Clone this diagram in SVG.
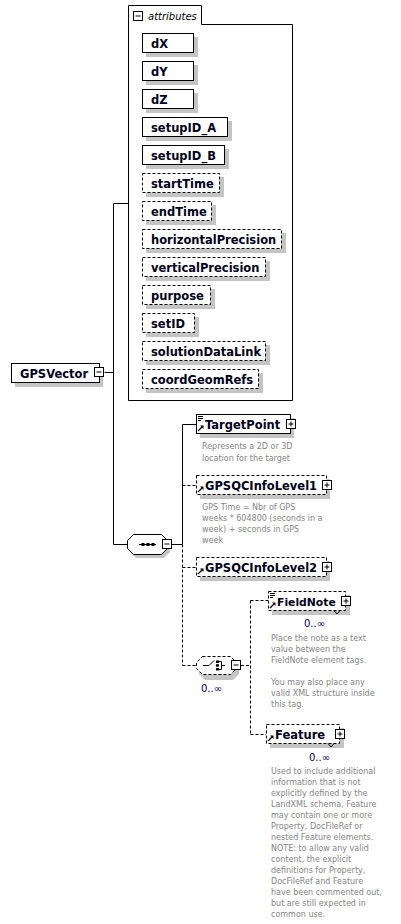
<svg xmlns="http://www.w3.org/2000/svg" width="401" height="924" viewBox="0 0 401 924">
<style>
.bg{fill:#fff}
.box{fill:#fff;stroke:#000;stroke-width:1}
.opt{stroke-dasharray:3,2}
.sh{fill:#c4c4c4}
.ln{fill:none;stroke:#000;stroke-width:1}
.dl{fill:none;stroke:#000;stroke-width:1;stroke-dasharray:3,2}
.name{font-family:"DejaVu Sans","Liberation Sans",sans-serif;font-weight:bold;font-size:11.5px;fill:#00001a}
.doc{font-family:"DejaVu Sans","Liberation Sans",sans-serif;font-size:8px;fill:#858585}
.occ{font-family:"DejaVu Sans","Liberation Sans",sans-serif;font-size:10px;fill:#000066}
.ital{font-family:"DejaVu Sans","Liberation Sans",sans-serif;font-style:italic;font-size:10px;fill:#000}
.ic{fill:#fff;stroke:#000;stroke-width:1}
</style>
<defs>
<g id="plus"><rect class="ic" x="0.5" y="0.5" width="9" height="9"/><path class="ln" d="M2.5,5 H7.5 M5,2.5 V7.5"/></g>
<g id="minus"><rect class="ic" x="0.5" y="0.5" width="9" height="9"/><path class="ln" d="M2.5,5 H7.5"/></g>
<g id="ref"><path d="M1,7 L5,3" stroke="#000" stroke-width="1.2" fill="none"/><path d="M3,1.5 H6.5 V5 Z" fill="#000"/></g>
<g id="mix"><path class="ln" d="M0,0.5 H5 M0,2.5 H5 M0,4.5 H3"/></g>
</defs>
<rect class="bg" x="0" y="0" width="401" height="924"/>

<g id="connectors">
<path class="ln" d="M104.5,372.5 H113.5 M113.5,203.5 V544.5 M113.5,203.5 H128 M113.5,544.5 H127"/>
<path class="ln" d="M172,544.5 H182.5 M182.5,424.5 V544.5 M182.5,424.5 H196"/>
<path class="dl" d="M182.5,544.5 V665.5 M182.5,485.5 H196 M182.5,567.5 H196 M182.5,665.5 H196"/>
<path class="dl" d="M241,665.5 H250.5 M250.5,600.5 V734.5 M250.5,600.5 H268 M250.5,734.5 H266"/>
</g>

<g id="GPSVector">
<rect class="sh" x="15" y="367" width="88" height="20"/>
<rect class="box" x="11.5" y="363.5" width="88" height="19"/>
<text class="name" x="20" y="377.5">GPSVector</text>
<use href="#minus" x="94" y="367"/>
</g>

<g id="attributes">
<path class="box" d="M128.5,5.5 H201.5 V24.5 H292.5 V400.5 H128.5 Z"/>
<use href="#minus" x="133" y="11"/>
<text class="ital" x="148" y="20">attributes</text>
</g>

<g id="attr-dX"><rect class="sh" x="146" y="37" width="52" height="20"/><rect class="box" x="142.5" y="33.5" width="51" height="19"/><text class="name" x="151" y="47.5">dX</text></g>
<g id="attr-dY"><rect class="sh" x="146" y="65" width="52" height="20"/><rect class="box" x="142.5" y="61.5" width="51" height="19"/><text class="name" x="151" y="75.5">dY</text></g>
<g id="attr-dZ"><rect class="sh" x="146" y="93" width="52" height="20"/><rect class="box" x="142.5" y="89.5" width="51" height="19"/><text class="name" x="151" y="103.5">dZ</text></g>
<g id="attr-setupID_A"><rect class="sh" x="146" y="121" width="86" height="20"/><rect class="box" x="142.5" y="117.5" width="85" height="19"/><text class="name" x="151" y="131.5">setupID_A</text></g>
<g id="attr-setupID_B"><rect class="sh" x="146" y="149" width="83" height="20"/><rect class="box" x="142.5" y="145.5" width="82" height="19"/><text class="name" x="151" y="159.5">setupID_B</text></g>
<g id="attr-startTime"><rect class="sh" x="146" y="177" width="78" height="20"/><rect class="box opt" x="142.5" y="173.5" width="77" height="19"/><text class="name" x="151" y="187.5">startTime</text></g>
<g id="attr-endTime"><rect class="sh" x="146" y="205" width="70" height="20"/><rect class="box opt" x="142.5" y="201.5" width="69" height="19"/><text class="name" x="151" y="215.5">endTime</text></g>
<g id="attr-horizontalPrecision"><rect class="sh" x="146" y="233" width="140" height="20"/><rect class="box opt" x="142.5" y="229.5" width="139" height="19"/><text class="name" x="151" y="243.5">horizontalPrecision</text></g>
<g id="attr-verticalPrecision"><rect class="sh" x="146" y="261" width="124" height="20"/><rect class="box opt" x="142.5" y="257.5" width="123" height="19"/><text class="name" x="151" y="271.5">verticalPrecision</text></g>
<g id="attr-purpose"><rect class="sh" x="146" y="289" width="69" height="20"/><rect class="box opt" x="142.5" y="285.5" width="68" height="19"/><text class="name" x="151" y="299.5">purpose</text></g>
<g id="attr-setID"><rect class="sh" x="146" y="317" width="53" height="20"/><rect class="box opt" x="142.5" y="313.5" width="52" height="19"/><text class="name" x="151" y="327.5">setID</text></g>
<g id="attr-solutionDataLink"><rect class="sh" x="146" y="345" width="124" height="20"/><rect class="box opt" x="142.5" y="341.5" width="123" height="19"/><text class="name" x="151" y="355.5">solutionDataLink</text></g>
<g id="attr-coordGeomRefs"><rect class="sh" x="146" y="373" width="117" height="20"/><rect class="box opt" x="142.5" y="369.5" width="116" height="19"/><text class="name" x="151" y="383.5">coordGeomRefs</text></g>

<g id="sequence">
<path class="sh" d="M136,538 H164 L170,544 V552 L164,558 H136 L130,552 V544 Z"/>
<path class="box" d="M133.5,534.5 H161.5 L167.5,540.5 V548.5 L161.5,554.5 H133.5 L127.5,548.5 V540.5 Z"/>
<path class="ln" d="M139,544.5 H156"/>
<rect x="141.5" y="543" width="3" height="3" fill="#000"/>
<rect x="146.5" y="543" width="3" height="3" fill="#000"/>
<rect x="151.5" y="543" width="3" height="3" fill="#000"/>
<use href="#minus" x="162" y="539"/>
</g>

<g id="TargetPoint">
<rect class="sh" x="200" y="418" width="94" height="20"/>
<rect class="box" x="196.5" y="414.5" width="94" height="19"/>
<use href="#mix" x="198" y="416"/>
<use href="#ref" x="197" y="424"/>
<text class="name" x="205" y="428.5">TargetPoint</text>
<use href="#plus" x="286" y="419"/>
<text class="doc" x="202" y="449">Represents a 2D or 3D</text>
<text class="doc" x="202" y="461">location for the target</text>
</g>

<g id="GPSQCInfoLevel1">
<rect class="sh" x="200" y="479" width="130" height="20"/>
<rect class="box opt" x="196.5" y="475.5" width="130" height="19"/>
<use href="#ref" x="197" y="485"/>
<text class="name" x="205" y="489.5">GPSQCInfoLevel1</text>
<use href="#plus" x="322" y="480"/>
<text class="doc" x="202" y="510">GPS Time = Nbr of GPS</text>
<text class="doc" x="202" y="521">weeks * 604800 (seconds in a</text>
<text class="doc" x="202" y="532">week) + seconds in GPS</text>
<text class="doc" x="202" y="543">week</text>
</g>

<g id="GPSQCInfoLevel2">
<rect class="sh" x="200" y="561" width="130" height="20"/>
<rect class="box opt" x="196.5" y="557.5" width="130" height="19"/>
<use href="#ref" x="197" y="567"/>
<text class="name" x="205" y="571.5">GPSQCInfoLevel2</text>
<use href="#plus" x="322" y="562"/>
</g>

<g id="choice">
<path class="sh" d="M205,662 H233 L239,668 V674 L233,680 H205 L199,674 V668 Z"/>
<path class="box opt" d="M202.5,656.5 H230.5 L236.5,662.5 V668.5 L230.5,674.5 H202.5 L196.5,668.5 V662.5 Z"/>
<path class="ln" d="M203,665.5 H209 L214,660.5"/>
<rect x="216" y="660.5" width="3" height="2.5" fill="#000"/>
<rect x="216" y="664.2" width="3" height="2.5" fill="#000"/>
<rect x="216" y="668" width="3" height="2.5" fill="#000"/>
<path class="ln" d="M219,661.5 H221.5 V669.5 H219 M221.5,665.5 H225"/>
<use href="#minus" x="231" y="660"/>
<text class="occ" x="201" y="692">0..∞</text>
</g>

<g id="FieldNote">
<rect class="sh" x="272" y="595" width="78" height="20"/>
<rect class="box opt" x="268.5" y="591.5" width="77" height="19"/>
<path class="ln" d="M334,610.5 L337,614 L340,610.5"/>
<use href="#mix" x="270" y="593"/>
<use href="#ref" x="269" y="601"/>
<text class="name" x="277" y="605.5" style="font-size:10.8px">FieldNote</text>
<use href="#plus" x="341" y="596"/>
<text class="occ" x="304" y="627">0..∞</text>
<text class="doc" x="271" y="641">Place the note as a text</text>
<text class="doc" x="271" y="652">value between the</text>
<text class="doc" x="271" y="663">FieldNote element tags.</text>
<text class="doc" x="271" y="685">You may also place any</text>
<text class="doc" x="271" y="696">valid XML structure inside</text>
<text class="doc" x="271" y="707">this tag.</text>
</g>

<g id="Feature">
<rect class="sh" x="270" y="728" width="74" height="20"/>
<rect class="box opt" x="266.5" y="724.5" width="73" height="19"/>
<path class="ln" d="M328,743.5 L331,747 L334,743.5"/>
<use href="#ref" x="267" y="734"/>
<text class="name" x="275" y="738.5">Feature</text>
<use href="#plus" x="335" y="729"/>
<text class="occ" x="309" y="761">0..∞</text>
<text class="doc" x="271" y="774">Used to include additional</text>
<text class="doc" x="271" y="785">information that is not</text>
<text class="doc" x="271" y="796">explicitly defined by the</text>
<text class="doc" x="271" y="807">LandXML schema, Feature</text>
<text class="doc" x="271" y="818">may contain one or more</text>
<text class="doc" x="271" y="829">Property, DocFileRef or</text>
<text class="doc" x="271" y="840">nested Feature elements.</text>
<text class="doc" x="271" y="851">NOTE: to allow any valid</text>
<text class="doc" x="271" y="862">content, the explicit</text>
<text class="doc" x="271" y="873">definitions for Property,</text>
<text class="doc" x="271" y="884">DocFileRef and Feature</text>
<text class="doc" x="271" y="895">have been commented out,</text>
<text class="doc" x="271" y="906">but are still expected in</text>
<text class="doc" x="271" y="917">common use.</text>
</g>
</svg>
